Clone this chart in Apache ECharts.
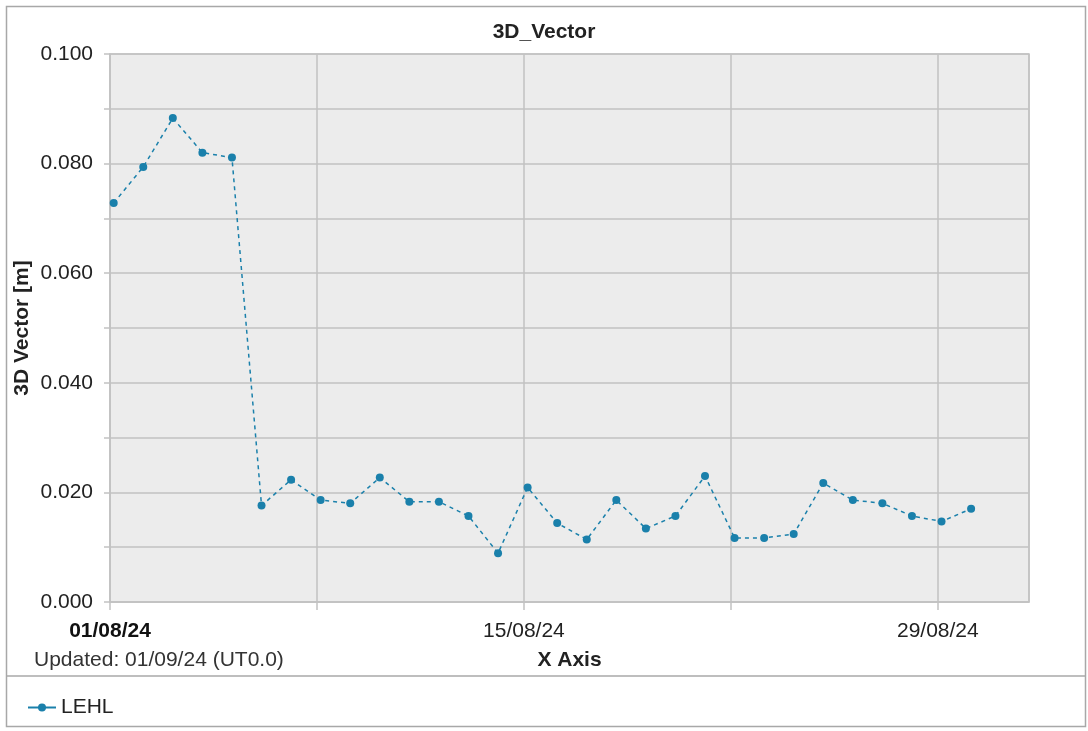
<!DOCTYPE html>
<html>
<head>
<meta charset="utf-8">
<script src="https://cdn.jsdelivr.net/npm/echarts@6/dist/echarts.min.js"></script>
<style>
html,body{margin:0;padding:0;background:#fff;}
#c{width:1088px;height:731px;}
</style>
</head>
<body>
<div id="c"></div>
<script>
// ---- data ----
var seriesName = 'LEHL';
var times = [
  '2024-08-01T03:00Z','2024-08-02T03:00Z','2024-08-03T03:00Z','2024-08-04T03:00Z','2024-08-05T03:00Z',
  '2024-08-06T03:00Z','2024-08-07T03:00Z','2024-08-08T03:00Z','2024-08-09T03:00Z','2024-08-10T03:00Z',
  '2024-08-11T03:00Z','2024-08-12T03:00Z','2024-08-13T03:00Z','2024-08-14T03:00Z','2024-08-15T03:00Z',
  '2024-08-16T03:00Z','2024-08-17T03:00Z','2024-08-18T03:00Z','2024-08-19T03:00Z','2024-08-20T03:00Z',
  '2024-08-21T03:00Z','2024-08-22T03:00Z','2024-08-23T03:00Z','2024-08-24T03:00Z','2024-08-25T03:00Z',
  '2024-08-26T03:00Z','2024-08-27T03:00Z','2024-08-28T03:00Z','2024-08-29T03:00Z','2024-08-30T03:00Z'
];
var values = [
  0.0728, 0.0794, 0.0883, 0.0820, 0.0811,
  0.0176, 0.0223, 0.0186, 0.0180, 0.0227,
  0.0183, 0.0183, 0.0157, 0.0089, 0.0209,
  0.0144, 0.0114, 0.0186, 0.0134, 0.0157,
  0.0230, 0.0117, 0.0117, 0.0124, 0.0217,
  0.0186, 0.0180, 0.0157, 0.0147, 0.0170
];
var axisStart = '2024-08-01T00:00Z';
var axisEnd = '2024-09-01T02:00Z';
var titleText = '3D_Vector';
var yName = '3D Vector [m]';
var xName = 'X Axis';
var updatedText = 'Updated: 01/09/24 (UT0.0)';

// ---- build ----
var DAY = 86400000;
var t0 = Date.parse(axisStart);
var toDay = function (s) { return (Date.parse(s) - t0) / DAY; };
var pts = times.map(function (t, i) { return [toDay(t), values[i]]; });
function fmtDate(d) {
  var dt = new Date(t0 + d * DAY);
  var p = function (n) { return (n < 10 ? '0' : '') + n; };
  return p(dt.getUTCDate()) + '/' + p(dt.getUTCMonth() + 1) + '/' + p(dt.getUTCFullYear() % 100);
}
var FONT = '"Liberation Sans", Arial, sans-serif';
var color = '#1a80ab';

var chart = echarts.init(document.getElementById('c'));
chart.setOption({
  animation: false,
  backgroundColor: '#fff',
  textStyle: { fontFamily: FONT },
  title: {
    text: titleText, left: 'center', top: 17,
    textStyle: { fontFamily: FONT, fontSize: 21, fontWeight: 'bold', color: '#222' }
  },
  grid: {
    left: 110, top: 54, right: 59, bottom: 129,
    show: true, backgroundColor: '#ececec', borderColor: '#c2c2c2', borderWidth: 1.5
  },
  legend: {
    left: 22, top: 692, itemWidth: 28, itemHeight: 10, itemGap: 10,
    data: [seriesName],
    textStyle: { fontFamily: FONT, fontSize: 21, color: '#222' },
    lineStyle: { type: 'solid' }
  },
  xAxis: {
    type: 'value', min: 0, max: toDay(axisEnd), interval: 7,
    name: xName, nameLocation: 'middle', nameGap: 48,
    nameTextStyle: { fontFamily: FONT, fontSize: 21, fontWeight: 'bold', color: '#222' },
    axisLine: { show: true, lineStyle: { color: '#c2c2c2', width: 1.5 } },
    axisTick: { show: true, length: 8, lineStyle: { color: '#c2c2c2', width: 1.5 } },
    splitLine: { show: true, lineStyle: { color: '#c2c2c2', width: 1.5 } },
    axisLabel: {
      margin: 19, fontSize: 21, color: '#222', fontFamily: FONT, showMaxLabel: false,
      formatter: function (v) {
        var r = Math.round(v);
        if (Math.abs(v - r) > 1e-6 || r % 14 !== 0) return '';
        return r === 0 ? '{b|' + fmtDate(r) + '}' : fmtDate(r);
      },
      rich: { b: { fontWeight: 'bold', fontSize: 21, color: '#111', fontFamily: FONT } }
    }
  },
  yAxis: {
    type: 'value', min: 0, max: 0.1, interval: 0.01,
    name: yName, nameLocation: 'middle', nameGap: 77, nameMoveOverlap: false,
    nameTextStyle: { fontFamily: FONT, fontSize: 21, fontWeight: 'bold', color: '#222' },
    axisLine: { show: true, lineStyle: { color: '#c2c2c2', width: 1.5 } },
    axisTick: { show: true, length: 6, lineStyle: { color: '#c2c2c2', width: 1.5 } },
    splitLine: { show: true, lineStyle: { color: '#c2c2c2', width: 1.5 } },
    axisLabel: {
      margin: 17, fontSize: 21, color: '#222', fontFamily: FONT,
      formatter: function (v) {
        var k = Math.round(v * 100);
        return k % 2 === 0 ? v.toFixed(3) : '';
      }
    }
  },
  series: [{
    name: seriesName, type: 'line', data: pts,
    symbol: 'circle', symbolSize: 8, showSymbol: true,
    itemStyle: { color: color },
    lineStyle: { color: color, width: 1.5, type: [4, 4] }
  }],
  graphic: [
    { type: 'rect', shape: { x: 6.5, y: 6.5, width: 1079, height: 720 },
      style: { fill: 'none', stroke: '#a8a8a8', lineWidth: 1.5 }, silent: true },
    { type: 'line', shape: { x1: 6.5, y1: 676, x2: 1085.5, y2: 676 },
      style: { stroke: '#a8a8a8', lineWidth: 1.5 }, silent: true },
    { type: 'text', left: 34, top: 650,
      style: { text: updatedText, font: '21px ' + FONT, fill: '#333' } }
  ]
});
</script>
</body>
</html>
